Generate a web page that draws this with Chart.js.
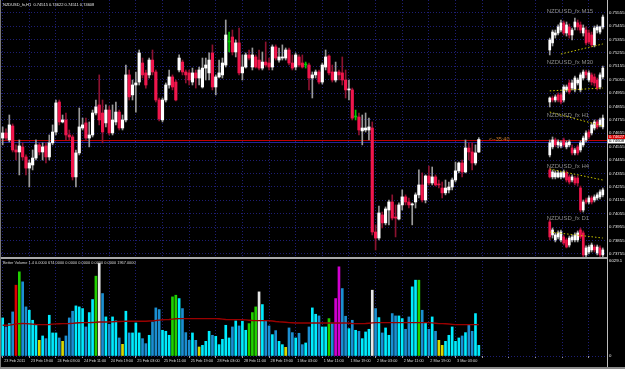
<!DOCTYPE html>
<html><head><meta charset="utf-8">
<script src="https://cdn.jsdelivr.net/npm/chart.js@4/dist/chart.umd.min.js"></script>
<style>html,body{margin:0;padding:0;background:#000;overflow:hidden;width:625px;height:369px}canvas{position:absolute;left:0}</style>
</head><body>
<canvas id="main" width="625" height="258" style="top:0"></canvas>
<canvas id="vol" width="625" height="112" style="top:257px"></canvas>
<script>
// ---------- data ----------
const tickLabels = ["23 Feb 2011","23 Feb 19:00","24 Feb 03:00","24 Feb 11:00","24 Feb 19:00","25 Feb 03:00","25 Feb 11:00","25 Feb 19:00","28 Feb 03:00","28 Feb 11:00","28 Feb 19:00","1 Mar 03:00","1 Mar 11:00","1 Mar 19:00","2 Mar 03:00","2 Mar 11:00","2 Mar 19:00","3 Mar 03:00"];
const priceTicks = [0.75555,0.75455,0.75355,0.75255,0.75155,0.75055,0.74955,0.74855,0.74755,0.74655,0.74555,0.74455,0.74355,0.74255,0.74155,0.74055,0.73955,0.73855,0.73755];

const open = [0.74619,0.74657,0.74605,0.74709,0.74530,0.74515,0.74553,0.74478,0.74395,0.74418,
0.74470,0.74568,0.74515,0.74560,0.74478,0.74583,0.74664,0.74888,0.74739,0.74754,
0.74642,0.74627,0.74329,0.74508,0.74694,0.74732,0.74619,0.74642,0.74806,0.74866,
0.74806,0.74732,0.74828,0.74657,0.74739,0.74813,0.74694,0.74754,0.75090,0.74941,
0.75015,0.75037,0.75179,0.75105,0.75090,0.75201,0.75112,0.74903,0.74754,0.74903,
0.75015,0.75075,0.75037,0.75127,0.75186,0.75112,0.75105,0.75037,0.75105,0.75067,
0.75000,0.75141,0.75105,0.75254,0.75000,0.75075,0.75090,0.75164,0.75336,0.75373,
0.75261,0.75329,0.75105,0.75149,0.75239,0.75149,0.75224,0.75201,0.75141,0.75186,
0.75179,0.75149,0.75299,0.75201,0.75216,0.75216,0.75276,0.75179,0.75149,0.75224,
0.75179,0.75164,0.75164,0.75067,0.75090,0.75112,0.75037,0.75149,0.75231,0.75112,
0.75052,0.75112,0.75105,0.75052,0.74978,0.74978,0.74776,0.74776,0.74672,0.74679,
0.74679,0.74694,0.73918,0.73873,0.74045,0.73986,0.74082,0.74142,0.74030,0.74015,
0.74120,0.74180,0.74142,0.74120,0.74142,0.74195,0.74269,0.74157,0.74336,0.74284,
0.74329,0.74276,0.74246,0.74210,0.74232,0.74254,0.74306,0.74374,0.74433,0.74366,
0.74545,0.74515,0.74433,0.74515];
const high = [0.74702,0.74687,0.74791,0.74724,0.74568,0.74605,0.74583,0.74493,0.74455,0.74530,
0.74605,0.74583,0.74583,0.74583,0.74642,0.74717,0.74903,0.74903,0.74791,0.74806,
0.74679,0.74642,0.74530,0.74843,0.74768,0.74768,0.74739,0.74828,0.74903,0.75090,
0.74903,0.74866,0.74858,0.74866,0.74888,0.74828,0.74791,0.75164,0.75127,0.75052,
0.75112,0.75276,0.75216,0.75127,0.75216,0.75276,0.75127,0.74918,0.74918,0.75030,
0.75127,0.75090,0.75052,0.75239,0.75201,0.75127,0.75127,0.75141,0.75127,0.75149,
0.75216,0.75216,0.75254,0.75314,0.75090,0.75201,0.75216,0.75500,0.75410,0.75425,
0.75351,0.75440,0.75239,0.75254,0.75276,0.75291,0.75239,0.75276,0.75261,0.75336,
0.75216,0.75314,0.75314,0.75291,0.75314,0.75291,0.75291,0.75239,0.75254,0.75239,
0.75239,0.75186,0.75179,0.75112,0.75127,0.75127,0.75179,0.75276,0.75239,0.75164,
0.75186,0.75127,0.75224,0.75127,0.75052,0.74992,0.74828,0.74806,0.74791,0.74806,
0.74768,0.74739,0.73971,0.74112,0.74067,0.74105,0.74157,0.74195,0.74120,0.74135,
0.74232,0.74195,0.74172,0.74135,0.74210,0.74381,0.74359,0.74344,0.74410,0.74403,
0.74344,0.74306,0.74291,0.74306,0.74291,0.74321,0.74440,0.74440,0.74455,0.74605,
0.74583,0.74583,0.74568,0.74622];
const low = [0.74568,0.74605,0.74590,0.74515,0.74455,0.74344,0.74455,0.74344,0.74254,0.74381,
0.74455,0.74493,0.74455,0.74433,0.74455,0.74568,0.74642,0.74717,0.74732,0.74605,
0.74605,0.74306,0.74254,0.74493,0.74679,0.74605,0.74553,0.74627,0.74791,0.74717,
0.74583,0.74702,0.74642,0.74642,0.74717,0.74679,0.74679,0.74739,0.74903,0.74903,
0.74813,0.75015,0.75067,0.74992,0.75067,0.75090,0.74888,0.74747,0.74739,0.74888,
0.74992,0.74978,0.74896,0.75112,0.75090,0.75030,0.75015,0.75015,0.74992,0.75015,
0.74992,0.75052,0.75052,0.74978,0.74941,0.75067,0.75067,0.75149,0.75261,0.75239,
0.75224,0.75090,0.75052,0.75141,0.75201,0.75127,0.75141,0.75127,0.75127,0.75149,
0.75127,0.75127,0.75201,0.75186,0.75201,0.75201,0.75164,0.75127,0.75127,0.75149,
0.75141,0.75141,0.74978,0.74918,0.75067,0.75022,0.75022,0.75127,0.75090,0.75037,
0.75037,0.75052,0.75015,0.74918,0.74903,0.74754,0.74754,0.74642,0.74568,0.74664,
0.74605,0.73896,0.73784,0.73859,0.73948,0.73971,0.73971,0.74008,0.73881,0.74008,
0.74082,0.74120,0.74097,0.73971,0.74097,0.74172,0.74142,0.74135,0.74269,0.74269,
0.74261,0.74246,0.74172,0.74195,0.74210,0.74232,0.74291,0.74359,0.74329,0.74359,
0.74455,0.74381,0.74418,0.74511];
const close = [0.74657,0.74619,0.74717,0.74530,0.74515,0.74560,0.74478,0.74395,0.74433,0.74470,
0.74568,0.74515,0.74553,0.74478,0.74583,0.74664,0.74881,0.74739,0.74754,0.74642,
0.74627,0.74329,0.74508,0.74702,0.74717,0.74619,0.74642,0.74806,0.74851,0.74754,
0.74664,0.74828,0.74657,0.74754,0.74813,0.74694,0.74754,0.75090,0.74926,0.75015,
0.75030,0.75254,0.75090,0.75015,0.75201,0.75112,0.74903,0.74761,0.74903,0.75015,
0.75075,0.75000,0.74903,0.75216,0.75112,0.75090,0.75052,0.75105,0.75067,0.75127,
0.75141,0.75164,0.75201,0.75000,0.75075,0.75105,0.75179,0.75388,0.75336,0.75261,
0.75329,0.75105,0.75149,0.75239,0.75216,0.75239,0.75149,0.75141,0.75186,0.75164,
0.75149,0.75299,0.75216,0.75224,0.75224,0.75276,0.75179,0.75141,0.75239,0.75164,
0.75149,0.75164,0.75067,0.75090,0.75112,0.75037,0.75164,0.75224,0.75105,0.75052,
0.75112,0.75090,0.75052,0.74978,0.74985,0.74768,0.74776,0.74679,0.74694,0.74694,
0.74702,0.73918,0.73873,0.74060,0.73986,0.74090,0.74142,0.74022,0.74022,0.74120,
0.74180,0.74142,0.74120,0.74127,0.74195,0.74269,0.74157,0.74336,0.74284,0.74329,
0.74269,0.74269,0.74210,0.74246,0.74254,0.74306,0.74374,0.74433,0.74366,0.74545,
0.74515,0.74433,0.74508,0.74608];

const volume = [2417,1844,2056,2798,4494,5342,4706,3116,2904,2268,
1950,996,1272,1102,2586,1463,1463,1145,933,1272,
2417,2841,3180,3116,3010,1844,2756,3583,5067,5872,
3964,2480,2014,2480,2226,1145,742,2841,1463,1463,
2099,1463,1102,784,1314,2162,3053,2947,1632,1569,
1314,3752,3858,3646,3010,1484,996,1463,996,572,
678,933,1569,1314,1251,721,1060,1950,1145,1844,
2226,1908,2205,1632,2056,2756,3116,4070,3265,2226,
1908,1357,1611,933,721,551,1781,1484,1145,1442,
721,827,1844,3053,2650,2544,1844,1844,2374,2056,
3646,5660,4282,2523,1738,2268,1632,1569,1102,1526,
1696,4176,3010,2438,1463,1781,1314,2692,2544,2544,
2374,1696,2480,4388,4812,4812,2904,2099,1696,2480,
1569,996,678,933,1314,1844,933,1145,1272,1484,
1993,1569,2692,678];
const volMA = [1950,1950,1960,1990,2040,2056,2060,2056,2040,2020,
2000,1993,1990,1993,2000,2020,2040,2050,2056,2056,
2060,2070,2090,2110,2120,2120,2120,2130,2140,2160,
2162,2162,2165,2170,2180,2190,2200,2205,2205,2205,
2205,2205,2205,2210,2220,2230,2250,2280,2300,2311,
2320,2340,2360,2374,2374,2374,2374,2374,2374,2374,
2374,2374,2374,2374,2370,2360,2340,2320,2311,2311,
2311,2311,2300,2290,2270,2250,2247,2247,2247,2247,
2240,2220,2190,2170,2162,2140,2120,2110,2099,2099,
2099,2099,2099,2099,2099,2099,2099,2099,2099,2099,
2099,2099,2099,2099,2080,2060,2056,2056,2056,2060,
2080,2100,2120,2120,2120,2120,2120,2120,2120,2120,
2120,2120,2120,2120,2120,2120,2120,2120,2120,2100,
2080,2056,2056,2050,2030,2010,1993,1993,1993,1993,
1993,1993,1993,1993];
// special Better Volume bar kinds (index -> kind)
const volSpecial = {4:'climaxUp',5:'churn',11:'low',18:'low',28:'churn',29:'climaxDown',36:'low',51:'churn',52:'churn',59:'low',74:'churn',75:'churn',76:'churn',77:'climaxDown',85:'low',98:'churn',100:'climaxChurn',101:'climaxChurn',111:'climaxDown',125:'churn',131:'low',132:'low'};
const volMax = 6029.1;

const bidPrice = 0.74608, askBoxPrice = 0.74627, refLinePrice = 0.74590;
const headerText = "NZDUSD_fx,H1  0.74515 0.74622 0.74511 0.74608";
const volHeader = "Better Volume 1.4 0.0000 674.0000 0.0000 0.0000 0.0000 0.0000 1967.0000";
const timerText = "<--35:40";

// mini timeframe panels, candles as [open, high, low, close]
const m15 = [[0.75276,0.75365,0.75239,0.75351],[0.75329,0.75425,0.75306,0.75410],[0.75388,0.75425,0.75365,0.75403],[0.75403,0.75463,0.75388,0.75448],[0.75425,0.75500,0.75410,0.75478],[0.75478,0.75493,0.75388,0.75403],[0.75403,0.75485,0.75380,0.75463],[0.75448,0.75470,0.75365,0.75388],[0.75388,0.75440,0.75351,0.75425],[0.75448,0.75515,0.75425,0.75485],[0.75478,0.75500,0.75425,0.75448],[0.75463,0.75485,0.75403,0.75425],[0.75403,0.75463,0.75380,0.75440],[0.75425,0.75448,0.75314,0.75329],[0.75403,0.75425,0.75321,0.75336],[0.75388,0.75410,0.75299,0.75314],[0.75314,0.75455,0.75299,0.75440],[0.75425,0.75463,0.75403,0.75448],[0.75410,0.75455,0.75395,0.75448],[0.75448,0.75537,0.75433,0.75522]];
const m30 = [[0.74888,0.74926,0.74851,0.74918],[0.74918,0.74933,0.74888,0.74903],[0.74903,0.74941,0.74888,0.74926],[0.74941,0.74956,0.74888,0.74903],[0.74941,0.74956,0.74873,0.74888],[0.74903,0.75015,0.74888,0.75000],[0.74978,0.75015,0.74963,0.75000],[0.75030,0.75052,0.74948,0.74963],[0.74992,0.75052,0.74978,0.75030],[0.74978,0.75082,0.74963,0.75067],[0.75030,0.75067,0.75015,0.75052],[0.74978,0.75105,0.74963,0.75090],[0.75067,0.75127,0.75052,0.75112],[0.75112,0.75127,0.75067,0.75090],[0.75052,0.75120,0.75037,0.75105],[0.75090,0.75105,0.75015,0.75037],[0.75075,0.75097,0.75007,0.75030],[0.75052,0.75067,0.74978,0.74992],[0.75000,0.75105,0.74985,0.75090],[0.75075,0.75156,0.75060,0.75141]];
const h1 = [[0.74493,0.74605,0.74478,0.74583],[0.74553,0.74627,0.74538,0.74605],[0.74605,0.74619,0.74553,0.74568],[0.74568,0.74605,0.74545,0.74590],[0.74560,0.74598,0.74545,0.74583],[0.74605,0.74619,0.74553,0.74568],[0.74553,0.74598,0.74538,0.74583],[0.74568,0.74605,0.74553,0.74590],[0.74545,0.74568,0.74493,0.74508],[0.74508,0.74545,0.74493,0.74530],[0.74553,0.74568,0.74493,0.74508],[0.74530,0.74598,0.74515,0.74583],[0.74568,0.74634,0.74553,0.74619],[0.74605,0.74672,0.74590,0.74657],[0.74664,0.74679,0.74612,0.74627],[0.74657,0.74732,0.74642,0.74717],[0.74694,0.74754,0.74679,0.74739],[0.74739,0.74754,0.74687,0.74702],[0.74717,0.74768,0.74702,0.74754],[0.74702,0.74791,0.74687,0.74768]];
const h4 = [[0.74381,0.74395,0.74321,0.74329],[0.74329,0.74381,0.74314,0.74366],[0.74329,0.74374,0.74314,0.74359],[0.74329,0.74374,0.74321,0.74359],[0.74329,0.74366,0.74314,0.74359],[0.74329,0.74381,0.74321,0.74366],[0.74359,0.74374,0.74291,0.74306],[0.74329,0.74344,0.74276,0.74291],[0.74306,0.74344,0.74291,0.74329],[0.74321,0.74336,0.74269,0.74284],[0.74321,0.74336,0.74261,0.74284],[0.74246,0.74261,0.74067,0.74082],[0.74082,0.74157,0.74067,0.74142],[0.74157,0.74172,0.74127,0.74142],[0.74142,0.74187,0.74127,0.74172],[0.74172,0.74187,0.74127,0.74142],[0.74157,0.74195,0.74142,0.74180],[0.74172,0.74210,0.74157,0.74195],[0.74180,0.74232,0.74165,0.74217],[0.74195,0.74246,0.74180,0.74232]];
const d1 = [[0.73993,0.74008,0.73859,0.73881],[0.73896,0.73948,0.73873,0.73933],[0.73859,0.73911,0.73844,0.73896],[0.73881,0.73926,0.73866,0.73911],[0.73859,0.73933,0.73844,0.73918],[0.73881,0.73896,0.73821,0.73836],[0.73859,0.73873,0.73799,0.73806],[0.73821,0.73888,0.73806,0.73873],[0.73859,0.73896,0.73844,0.73881],[0.73859,0.73911,0.73844,0.73896],[0.73859,0.73926,0.73844,0.73911],[0.73933,0.73948,0.73866,0.73881],[0.73911,0.73926,0.73732,0.73747],[0.73747,0.73814,0.73732,0.73799],[0.73769,0.73821,0.73754,0.73806],[0.73784,0.73836,0.73769,0.73821],[0.73806,0.73821,0.73769,0.73784],[0.73762,0.73821,0.73747,0.73806],[0.73799,0.73814,0.73732,0.73747],[0.73747,0.73799,0.73732,0.73784]];
const miniTitles = ["NZDUSD_fx M15","NZDUSD_fx M30","NZDUSD_fx H1","NZDUSD_fx H4","NZDUSD_fx D1"];
const miniTitleLevels = [0.75562,0.75186,0.74791,0.74410,0.74022];
// dotted trend lines: [candle index, price] start and end
const miniTrends = [[[4,0.75246],[19,0.75321]],[[0,0.74971],[19,0.74992]],[[0,0.74813],[19,0.74709]],[[0,0.74388],[19,0.74306]],[[0,0.73918],[19,0.73873]]];

// ---------- layout / style ----------
const SLOTS = 182, MINI_SLOTS = 217, MINI_START = 196;
const Y_MIN = 0.73724, Y_MAX = 0.75649;
const GRID = '#1e1e74';
const SANS = "'Liberation Sans','DejaVu Sans',sans-serif";
const UP = '#ffffff', DN = '#f0164c', UPW = '#9a9a9a', DNW = '#8c1230', DOJI = '#00c800';
const bodyCol = (o,c) => c > o ? UP : (c < o ? DN : DOJI);
const wickCol = (o,c) => c > o ? UPW : (c < o ? DNW : DOJI);
const slots = Array.from({length: SLOTS}, (_, i) => i);
const miniSlots = Array.from({length: MINI_SLOTS}, (_, i) => i);

const datasets = [
  {type:'bar', data: open.map((o,i)=>[o, close[i]]), backgroundColor: open.map((o,i)=>bodyCol(o,close[i])),
   barThickness: 2.5, minBarLength: 1, grouped:false, order:1, xAxisID:'x', yAxisID:'y'},
  {type:'bar', data: open.map((o,i)=>[low[i], high[i]]), backgroundColor: open.map((o,i)=>wickCol(o,close[i])),
   barThickness: 1, grouped:false, order:2, xAxisID:'x', yAxisID:'y'}
];
const pad = new Array(MINI_START).fill(null);
[m15,m30,h1,h4,d1].forEach((panel, p) => {
  datasets.push({type:'bar', data: pad.concat(panel.map(c=>[c[0],c[3]])),
    backgroundColor: pad.concat(panel.map(c=>bodyCol(c[0],c[3]))), barThickness:2, grouped:false, order:1, xAxisID:'xm', yAxisID:'y'});
  datasets.push({type:'bar', data: pad.concat(panel.map(c=>[c[2],c[1]])),
    backgroundColor: pad.concat(panel.map(c=>wickCol(c[0],c[3]))), barThickness:1, grouped:false, order:2, xAxisID:'xm', yAxisID:'y'});
  const tr = new Array(MINI_START + panel.length).fill(null);
  miniTrends[p].forEach(([k,v]) => { tr[MINI_START + k] = v; });
  datasets.push({type:'line', data: tr, spanGaps:true, borderColor:'#c8c400', borderWidth:1, borderDash:[1.5,2],
    pointRadius:0, order:0, xAxisID:'xm', yAxisID:'y'});
});

const mainDecor = {
  id:'mainDecor',
  beforeDatasetsDraw(chart){
    const {ctx, chartArea:a, scales:{y}} = chart;
    ctx.save();
    [[refLinePrice,'#22229a'],[bidPrice,'#c00000']].forEach(([v,c])=>{
      const py = Math.round(y.getPixelForValue(v)) + 0.5;
      ctx.strokeStyle = c; ctx.lineWidth = 1;
      ctx.beginPath(); ctx.moveTo(0, py); ctx.lineTo(a.right, py); ctx.stroke();
    });
    ctx.restore();
  },
  afterDraw(chart){
    const {ctx, chartArea:a, scales:{x, y, xm}} = chart;
    ctx.save();
    ctx.textBaseline = 'middle';
    ctx.fillStyle = '#e6e6e6'; ctx.font = '4px ' + SANS; ctx.textAlign = 'left';
    ctx.fillText(headerText, 3, 5);
    // mini titles
    ctx.fillStyle = '#8a8a8a'; ctx.font = '6px ' + SANS;
    miniTitles.forEach((t,i)=> ctx.fillText(t, xm.getPixelForValue(MINI_START) - 3, y.getPixelForValue(miniTitleLevels[i])));
    // timer
    ctx.fillStyle = '#c8782a'; ctx.font = '5.5px ' + SANS;
    ctx.fillText(timerText, x.getPixelForValue(open.length + 2), y.getPixelForValue(bidPrice) - 0.5);
    // borders
    ctx.fillStyle = '#7a7a7a'; ctx.fillRect(0, 0, 1, chart.height);
    ctx.fillStyle = '#bdbdbd'; ctx.fillRect(a.right, 0, 1, chart.height);
    // price boxes
    ctx.font = '4.2px ' + SANS;
    const ra = y.getPixelForValue(askBoxPrice);
    ctx.fillStyle = '#d80000'; ctx.fillRect(a.right + 1, ra - 2.1, 17, 4.2);
    ctx.fillStyle = '#ffffff'; ctx.fillText(askBoxPrice.toFixed(5), a.right + 2, ra);
    const rb = y.getPixelForValue(bidPrice) + 1.8;
    ctx.fillStyle = '#ffffff'; ctx.fillRect(a.right + 1, rb - 2.1, 17, 4.2);
    ctx.fillStyle = '#000000'; ctx.fillText(bidPrice.toFixed(5), a.right + 2, rb);
    ctx.restore();
  }
};

new Chart(document.getElementById('main'), {
  type:'bar',
  data:{labels: slots, datasets},
  options:{
    responsive:false, animation:false, devicePixelRatio:1, events:[],
    layout:{padding:{left:1, right:0, top:0, bottom:0}},
    plugins:{legend:{display:false}, tooltip:{enabled:false}, title:{display:false}},
    scales:{
      x:{type:'category', offset:true, grid:{display:true, offset:false, color:GRID, drawTicks:false},
         border:{display:false, dash:[1,2]}, ticks:{display:false, autoSkip:false},
         afterBuildTicks: s => { s.ticks = s.ticks.filter(t => t.value % 8 === 0); },
         afterFit: s => { s.height = 0; s.paddingLeft = 0; s.paddingRight = 0; }},
      xm:{type:'category', labels: miniSlots, offset:true, display:false},
      y:{type:'linear', position:'right', min:Y_MIN, max:Y_MAX,
         afterBuildTicks: s => { s.ticks = priceTicks.map(v => ({value:v})); },
         ticks:{color:'#e8e8e8', font:{family:SANS, size:4.3}, padding:2, autoSkip:false, callback: v => Number(v).toFixed(5)},
         grid:{color:GRID, drawTicks:false}, border:{display:false, dash:[1,2]},
         afterFit: s => { s.width = 18; s.paddingTop = 0; s.paddingBottom = 0; }}
    }
  },
  plugins:[mainDecor]
});

const volColors = volume.map((v,i) => {
  const k = volSpecial[i];
  if (k === 'climaxUp') return '#e00000';
  if (k === 'churn') return '#20d000';
  if (k === 'low') return '#d8d800';
  if (k === 'climaxDown') return '#e8e8e8';
  if (k === 'climaxChurn') return '#d000d0';
  return close[i] >= open[i] ? '#00ecff' : '#1b8fd2';
});

const volDecor = {
  id:'volDecor',
  afterDraw(chart){
    const {ctx, chartArea:a} = chart;
    ctx.save();
    ctx.fillStyle = '#a8a8a8'; ctx.fillRect(0, 0, a.right, 2);
    ctx.fillStyle = '#7a7a7a'; ctx.fillRect(0, 0, 1, chart.height);
    ctx.fillStyle = '#bdbdbd'; ctx.fillRect(a.right, 0, 1, a.bottom + 12);
    ctx.fillStyle = '#8a8a8a'; ctx.fillRect(0, chart.height - 2, chart.width, 2);
    ctx.fillStyle = '#d8d8d8'; ctx.font = '3.9px ' + SANS; ctx.textBaseline = 'middle'; ctx.textAlign = 'left';
    ctx.fillText(volHeader, 3, 5.5);
    ctx.restore();
  }
};

new Chart(document.getElementById('vol'), {
  type:'bar',
  data:{labels: slots, datasets:[
    {type:'line', data: volMA, borderColor:'#9a0000', borderWidth:1.4, pointRadius:0, tension:0, order:1, yAxisID:'vy'},
    {type:'bar', data: volume, backgroundColor: volColors, barThickness:2, grouped:false, order:2, yAxisID:'vy'}
  ]},
  options:{
    responsive:false, animation:false, devicePixelRatio:1, events:[],
    layout:{padding:{left:1, right:0, top:4, bottom:0}},
    plugins:{legend:{display:false}, tooltip:{enabled:false}},
    scales:{
      x:{type:'category', offset:true,
         grid:{display:true, offset:false, color:GRID, drawTicks:true, tickLength:2, tickColor:'#9a9a9a'},
         border:{display:false, dash:[1,2]},
         ticks:{autoSkip:false, maxRotation:0, minRotation:0, align:'start', labelOffset:1.5, padding:1,
                color:'#d8d8d8', font:{family:SANS, size:3.8},
                callback: v => (v % 8 === 0 && tickLabels[v/8]) ? tickLabels[v/8] : ''},
         afterBuildTicks: s => { s.ticks = s.ticks.filter(t => t.value % 8 === 0); },
         afterFit: s => { s.height = 13; s.paddingLeft = 0; s.paddingRight = 0; }},
      vy:{type:'linear', position:'right', min:0, max:volMax,
         afterBuildTicks: s => { s.ticks = [{value:0},{value:volMax}]; },
         ticks:{color:'#e8e8e8', font:{family:SANS, size:4.3}, padding:2, callback: v => v === 0 ? '0' : Number(v).toFixed(1)},
         grid:{drawTicks:false, color: c => (c.tick && c.tick.value === 0) ? GRID : 'rgba(0,0,0,0)'},
         border:{display:false, dash:[1,2]},
         afterFit: s => { s.width = 18; s.paddingTop = 0; s.paddingBottom = 0; }}
    }
  },
  plugins:[volDecor]
});
</script>
</body></html>
